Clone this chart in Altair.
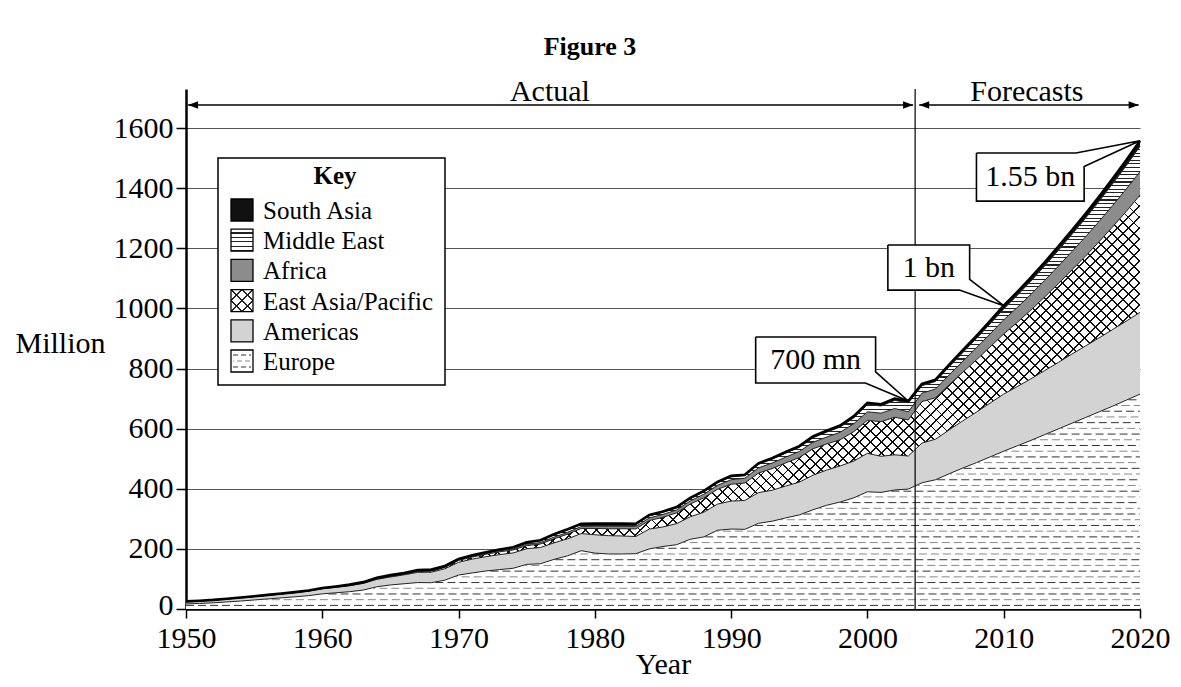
import altair as alt
import numpy as np
import pandas as pd

# ---------------- data (million arrivals) ----------------
years = list(range(1950, 2021))

europe = [16.8, 18.5, 20.5, 23.5, 26.5, 30.0, 33.5, 37.0, 40.5, 44.5,
          50.4, 54.0, 57.5, 63.0, 74.0, 80.0, 84.0, 88.0, 87.5, 96.0,
          113.0, 120.0, 126.5, 131.0, 135.5, 148.5, 150.5, 165.0, 177.0, 194.0,
          186.0, 183.0, 183.0, 184.0, 200.0, 208.0, 214.0, 232.0, 240.0, 262.0,
          266.0, 265.0, 285.0, 292.0, 303.0, 313.0, 330.0, 345.0, 356.0, 370.0,
          390.0, 388.0, 396.0, 399.0, 420.0, 430.0, 450.0, 469.0, 487.0, 506.0,
          525.0, 543.0, 561.0, 580.0, 599.0, 618.0, 637.0, 656.0, 675.0, 695.0,
          715.0]
americas = [7.5, 8.0, 8.6, 9.5, 10.3, 11.0, 11.8, 12.6, 13.8, 15.0,
            16.7, 18.0, 19.8, 22.0, 24.5, 26.5, 29.5, 34.0, 35.0, 38.0,
            42.3, 46.0, 47.5, 50.0, 51.0, 52.0, 54.0, 55.0, 56.5, 57.0,
            61.0, 61.0, 60.0, 57.0, 66.0, 65.0, 70.0, 75.0, 82.0, 87.0,
            93.0, 96.0, 102.0, 103.0, 106.0, 109.0, 115.0, 117.0, 120.0, 122.0,
            128.0, 120.0, 117.0, 110.0, 132.0, 135.0, 146.0, 157.0, 168.0, 179.0,
            190.0, 197.0, 205.0, 213.0, 221.0, 230.0, 238.0, 246.0, 255.0, 263.0,
            272.0]
east_asia = [0.2, 0.3, 0.3, 0.3, 0.4, 0.4, 0.5, 0.5, 0.6, 0.7,
             0.9, 1.0, 1.2, 1.5, 1.8, 2.1, 2.4, 2.8, 3.3, 4.3,
             6.2, 6.7, 8.0, 9.2, 9.8, 10.2, 11.5, 13.5, 15.5, 17.0,
             21.0, 23.0, 24.0, 25.5, 28.5, 32.0, 36.0, 42.0, 48.0, 49.0,
             56.0, 58.0, 65.0, 72.0, 77.0, 82.0, 88.0, 87.0, 87.0, 98.0,
             110.0, 115.0, 125.0, 120.0, 138.0, 138.0, 150.0, 162.0, 174.0, 187.0,
             200.0, 214.0, 229.0, 245.0, 262.0, 280.0, 299.0, 320.0, 342.0, 365.0,
             390.0]
africa = [0.5, 0.5, 0.6, 0.6, 0.6, 0.6, 0.6, 0.7, 0.7, 0.7,
          0.8, 0.9, 1.0, 1.1, 1.2, 1.4, 1.6, 1.8, 2.0, 2.2,
          2.4, 2.7, 3.0, 3.4, 3.8, 4.7, 5.0, 5.5, 6.0, 6.5,
          7.2, 7.8, 8.0, 8.3, 8.7, 9.7, 9.5, 10.5, 12.0, 13.5,
          15.2, 16.0, 17.5, 18.5, 19.0, 20.0, 21.5, 23.0, 25.0, 26.5,
          28.0, 28.5, 29.0, 27.0, 28.0, 29.0, 33.0, 36.0, 40.0, 43.0,
          47.0, 49.5, 52.0, 55.0, 58.0, 61.0, 64.0, 67.5, 71.0, 74.5,
          78.0]
middle_east = [0.2, 0.3, 0.3, 0.3, 0.4, 0.4, 0.4, 0.5, 0.5, 0.6,
               0.6, 0.9, 1.2, 1.5, 2.0, 2.2, 2.0, 2.2, 2.5, 2.0,
               1.9, 2.3, 2.8, 3.2, 3.7, 4.8, 5.8, 7.5, 8.0, 6.5,
               6.5, 7.0, 7.2, 6.5, 7.0, 7.5, 7.0, 7.5, 8.0, 8.5,
               9.6, 8.5, 11.5, 12.5, 13.5, 13.7, 15.0, 16.0, 17.5, 19.5,
               24.0, 24.0, 27.0, 30.0, 25.0, 25.0, 27.0, 29.0, 31.0, 33.5,
               36.0, 40.0, 44.0, 48.0, 52.5, 57.0, 62.0, 67.0, 72.0, 78.0,
               84.0]
south_asia = [0.1, 0.1, 0.1, 0.1, 0.1, 0.1, 0.1, 0.1, 0.1, 0.2,
              0.2, 0.3, 0.3, 0.3, 0.4, 0.4, 0.5, 0.6, 0.7, 0.8,
              0.9, 1.0, 1.2, 1.3, 1.4, 1.6, 1.8, 2.0, 2.2, 2.3,
              2.3, 2.4, 2.4, 2.4, 2.5, 2.5, 2.6, 2.8, 3.0, 3.1,
              3.2, 3.3, 3.6, 3.8, 4.0, 4.2, 4.5, 5.0, 5.0, 5.5,
              6.0, 5.8, 6.3, 6.0, 6.0, 6.0, 7.0, 8.0, 9.0, 10.0,
              11.0, 11.5, 12.0, 12.5, 13.0, 14.0, 15.0, 16.0, 17.0, 18.0,
              19.0]

key_labels = ["South Asia", "Middle East", "Africa", "East Asia/Pacific", "Americas", "Europe"]
x_ticks = list(range(1950, 2021, 10))
y_ticks = list(range(0, 1601, 200))
callouts = ["700 mn", "1 bn", "1.55 bn"]
callout_years = [2003, 2010, 2020]

for arr in (europe, americas, east_asia, africa, middle_east, south_asia):
    assert len(arr) == len(years)

# ---------------- layout constants ----------------
SERIF = "Liberation Serif"
W, H = 954, 520
YMAX = 1730
ky = H / YMAX
DIVIDER = 2003.5

cum = np.cumsum(np.vstack([europe, americas, east_asia, africa, middle_east, south_asia]), axis=0)
df = pd.DataFrame({"year": years, "base": 0.0, "e": cum[0], "a": cum[1], "p": cum[2],
                   "f": cum[3], "m": cum[4], "s": cum[5]})
total = dict(zip(years, cum[5]))

xs = alt.Scale(domain=[1950, 2020], nice=False, zero=False)
ys = alt.Scale(domain=[0, YMAX], nice=False, zero=True)

x_axis = alt.Axis(values=x_ticks, format="d", title="Year", grid=False,
                  domainColor="black", domainWidth=2.5, tickColor="black", tickWidth=1.5,
                  tickSize=9, labelFont=SERIF, labelFontSize=30, labelColor="black",
                  labelPadding=5, labelFlush=False, titleFont=SERIF, titleFontSize=30,
                  titleFontWeight="normal", titleColor="black", titleBaseline="alphabetic",
                  titleY=64)
y_axis = alt.Axis(values=y_ticks, format="d", title="Million", grid=True, gridColor="#555",
                  gridWidth=1.2, domainColor="black", domainWidth=2.5, tickColor="black",
                  tickWidth=1.5, tickSize=10, labelFont=SERIF, labelFontSize=30,
                  labelColor="black", labelPadding=3,
                  labelOffset={"condition": {"test": "datum.value === 0", "value": -4},
                               "value": 0},
                  titleFont=SERIF, titleFontSize=30,
                  titleFontWeight="normal", titleColor="black", titleAngle=0,
                  titleAlign="center", titleBaseline="middle", titleX=-126, titleY=254)


def X(field="year"):
    return alt.X(f"{field}:Q", scale=xs, axis=x_axis)


def Y(field):
    return alt.Y(f"{field}:Q", scale=ys, axis=y_axis)


def stripe_stops(n, frac, bg, fg):
    stops = []
    for i in range(n):
        a0 = round(i / n, 6)
        b0 = round((i + 1 - frac) / n, 6)
        c0 = round((i + 1) / n, 6)
        stops += [{"offset": a0, "color": bg}, {"offset": b0, "color": bg},
                  {"offset": b0, "color": fg}, {"offset": c0, "color": fg}]
    return stops


def hatch_grad(w_px, h_px, period_h, lw_px, fg, bg, direction):
    a, b = 1.0, h_px / w_px
    k = (a + b) / (a * a + b * b)
    n = max(1, int(round((w_px + h_px) / period_h)))
    frac = lw_px / (period_h / np.sqrt(2))
    stops = stripe_stops(n, frac, bg, fg)
    if direction == "/":
        return {"gradient": "linear", "x1": 0, "y1": 0, "x2": k * a, "y2": k * b, "stops": stops}
    return {"gradient": "linear", "x1": 0, "y1": 1, "x2": k * a, "y2": 1 - k * b, "stops": stops}


def hstripe_grad(h_px, period, lw_px, fg, bg):
    n = max(1, int(round(h_px / period)))
    return {"gradient": "linear", "x1": 0, "y1": 0, "x2": 0, "y2": 1,
            "stops": stripe_stops(n, lw_px / period, bg, fg)}


TRANSP = "rgba(255,255,255,0)"

# ---------------- bands ----------------
europe_fill = alt.Chart(df).mark_area(fill="white").encode(x=X(), y=Y("e"), y2="base:Q")

# dashed rows inside the Europe band, computed from its upper edge
grid_x = np.arange(1950, 2020.0001, 0.02)
e_line = np.interp(grid_x, years, cum[0])
segs = []
for k, lev in enumerate(np.arange(12, cum[0].max(), 19)):
    inside = (e_line > lev + 2).astype(int)
    edges = np.flatnonzero(np.diff(np.concatenate([[0], inside, [0]])))
    for s0, s1 in zip(edges[::2], edges[1::2]):
        segs.append({"x": grid_x[s0], "x2": grid_x[s1 - 1], "y": lev, "row": k % 2})
segs = pd.DataFrame(segs)

dash_even = alt.Chart(segs[segs.row == 0]).mark_rule(
    color="#333", strokeWidth=1, strokeDash=[8, 4]).encode(x=X("x"), x2="x2:Q", y=Y("y"))
dash_odd = alt.Chart(segs[segs.row == 1]).mark_rule(
    color="#888", strokeWidth=1, strokeDash=[8, 4], strokeDashOffset=6).encode(
    x=X("x"), x2="x2:Q", y=Y("y"))

americas_band = alt.Chart(df).mark_area(fill="#d3d3d3").encode(x=X(), y=Y("e"), y2="a:Q")

eap_h = (cum[2].max() - cum[1].min()) * ky
eap_white = alt.Chart(df).mark_area(fill="white").encode(x=X(), y=Y("a"), y2="p:Q")
eap_h1 = alt.Chart(df).mark_area(fill=hatch_grad(W, eap_h, 11, 1.35, "#111", TRANSP, "/")).encode(
    x=X(), y=Y("a"), y2="p:Q")
eap_h2 = alt.Chart(df).mark_area(fill=hatch_grad(W, eap_h, 11, 1.35, "#111", TRANSP, "\\")).encode(
    x=X(), y=Y("a"), y2="p:Q")

africa_band = alt.Chart(df).mark_area(fill="#8c8c8c").encode(x=X(), y=Y("p"), y2="f:Q")

me_h = (cum[4].max() - cum[3].min()) * ky
me_band = alt.Chart(df).mark_area(fill=hstripe_grad(me_h, 3.6, 1.1, "#222", "white")).encode(
    x=X(), y=Y("f"), y2="m:Q")

sa_band = alt.Chart(df).mark_area(fill="#111").encode(x=X(), y=Y("m"), y2="s:Q")

edges_lines = alt.Chart(df).transform_fold(["e", "a", "p", "f", "m"], as_=["k", "v"]).mark_line(
    color="#222", strokeWidth=1).encode(x=X(), y=Y("v"), detail="k:N")
top_line = alt.Chart(df).mark_line(color="black", strokeWidth=2.6).encode(x=X(), y=Y("s"))

# ---------------- divider, arrows, headings ----------------
ARROW_Y = 1677
div_df = pd.DataFrame({"x": [DIVIDER], "y": [0], "y2": [YMAX]})
divider = alt.Chart(div_df).mark_rule(color="black", strokeWidth=1.2).encode(
    x=X("x"), y=Y("y"), y2="y2:Q")

arr_df = pd.DataFrame({"x": [1950.15, DIVIDER + 0.3], "x2": [DIVIDER - 0.15, 2019.9],
                       "y": [ARROW_Y, ARROW_Y]})
arrows = alt.Chart(arr_df).mark_rule(color="black", strokeWidth=1.5).encode(
    x=X("x"), x2="x2:Q", y=Y("y"))
heads_r = alt.Chart(arr_df).mark_point(shape="M0,0L-2,-0.75L-2,0.75Z", filled=True, size=100,
                                       color="black", opacity=1).encode(x=X("x2"), y=Y("y"))
heads_l = alt.Chart(arr_df).mark_point(shape="M0,0L2,-0.75L2,0.75Z", filled=True, size=100,
                                       color="black", opacity=1).encode(x=X("x"), y=Y("y"))

head_df = pd.DataFrame({"x": [1976.7, 2011.7], "y": [1690, 1690], "t": ["Actual", "Forecasts"]})
headings = alt.Chart(head_df).mark_text(font=SERIF, fontSize=30, color="black",
                                        baseline="alphabetic", align="center").encode(
    x=X("x"), y=Y("y"), text="t:N")

# ---------------- call-out boxes ----------------
boxes = [  # x1, x2, top, bottom (year / million)
    (1991.8, 2000.6, 905, 752),
    (2001.5, 2007.5, 1211, 1061),
    (2008.0, 2015.9, 1517, 1357),
]
text_pos = [(1996.2, 828), (2004.5, 1136), (2011.95, 1437)]
pts = []
for i, ((x1, x2, tp, bt), yr) in enumerate(zip(boxes, callout_years)):
    tip = (yr, total[yr])
    if i < 2:
        poly = [(x1, tp), (x2, tp), (x2, bt + 0.24 * (tp - bt)), tip,
                (x2 - 0.75, bt), (x1, bt), (x1, tp)]
    else:
        poly = [(x1, tp), (x2 - 0.6, tp), tip, (x2, tp - 0.28 * (tp - bt)),
                (x2, bt), (x1, bt), (x1, tp)]
    for o, (px, py) in enumerate(poly):
        pts.append({"b": i, "o": o, "x": px, "y": py})
pts = pd.DataFrame(pts)
box_df = pd.DataFrame([{"x1": b[0], "x2": b[1], "y1": b[2], "y2": b[3]} for b in boxes])
box_fill = alt.Chart(box_df).mark_rect(fill="white").encode(
    x=X("x1"), x2="x2:Q", y=Y("y1"), y2="y2:Q")
box_line = alt.Chart(pts).mark_line(color="black", strokeWidth=1.6, strokeJoin="miter").encode(
    x=X("x"), y=Y("y"), order="o:Q", detail="b:N")
ct_df = pd.DataFrame({"x": [t[0] for t in text_pos], "y": [t[1] for t in text_pos], "t": callouts})
box_text = alt.Chart(ct_df).mark_text(font=SERIF, fontSize=30, color="black",
                                      baseline="middle", align="center").encode(
    x=X("x"), y=Y("y"), text="t:N")

# ---------------- key (pixel layout) ----------------
one = pd.DataFrame({"k": [0]})


def px_rect(x1, x2, y1, y2, **mk):
    return alt.Chart(one).mark_rect(**mk).encode(
        x=alt.value(x1), x2=alt.value(x2), y=alt.value(y1), y2=alt.value(y2))


def px_text(x, y, txt, **mk):
    return alt.Chart(one).mark_text(text=txt, **mk).encode(x=alt.value(x), y=alt.value(y))


key_layers = [px_rect(32, 259, 69, 296, fill="white", stroke="black", strokeWidth=1.5),
              px_text(149, 87, "Key", font=SERIF, fontSize=25, fontWeight="bold",
                      color="black", baseline="middle", align="center")]
SX1, SX2 = 45, 67
row_y = [121 + 30.2 * i for i in range(len(key_labels))]


def line_stops(centres, width, fg, bg):
    st = [{"offset": 0, "color": bg}]
    for c in centres:
        st += [{"offset": c - width / 2, "color": bg}, {"offset": c - width / 2, "color": fg},
               {"offset": c + width / 2, "color": fg}, {"offset": c + width / 2, "color": bg}]
    st.append({"offset": 1, "color": bg})
    return st


sw_fills = {
    "South Asia": "#111",
    "Middle East": hstripe_grad(22, 4.4, 1.2, "#222", "white"),
    "Africa": "#8c8c8c",
    "Americas": "#d3d3d3",
    "Europe": "white",
}
for lab, cy in zip(key_labels, row_y):
    y1, y2 = cy - 11, cy + 11
    if lab == "East Asia/Pacific":
        key_layers.append(px_rect(SX1, SX2, y1, y2, fill="white"))
        g1 = {"gradient": "linear", "x1": 0, "y1": 0, "x2": 1, "y2": 1,
              "stops": line_stops([0.25, 0.5, 0.75], 0.05, "#222", TRANSP)}
        g2 = {"gradient": "linear", "x1": 0, "y1": 1, "x2": 1, "y2": 0,
              "stops": line_stops([0.25, 0.5, 0.75], 0.05, "#222", TRANSP)}
        key_layers.append(px_rect(SX1, SX2, y1, y2, fill=g1))
        key_layers.append(px_rect(SX1, SX2, y1, y2, fill=g2))
    else:
        key_layers.append(px_rect(SX1, SX2, y1, y2, fill=sw_fills[lab]))
    if lab == "Europe":
        for j, dy in enumerate([-6, 0, 6]):
            key_layers.append(alt.Chart(one).mark_rule(
                color="#333" if j % 2 == 0 else "#888", strokeWidth=1, strokeDash=[5, 3],
                strokeDashOffset=0 if j % 2 == 0 else 4).encode(
                x=alt.value(SX1 + 2), x2=alt.value(SX2 - 2), y=alt.value(cy + dy)))
    key_layers.append(px_rect(SX1, SX2, y1, y2, fill=TRANSP, stroke="black", strokeWidth=1.3))
    key_layers.append(px_text(77, cy + 1, lab, font=SERIF, fontSize=25, color="black",
                              baseline="middle", align="left"))

title = px_text(404, -42, "Figure 3", font=SERIF, fontSize=26, fontWeight="bold",
                color="black", baseline="middle", align="center")

chart = alt.layer(
    europe_fill, dash_even, dash_odd, americas_band, eap_white, eap_h1, eap_h2,
    africa_band, me_band, sa_band, edges_lines, top_line,
    divider, arrows, heads_r, heads_l, headings,
    box_fill, box_line, box_text, *key_layers, title,
).properties(
    width=W, height=H,
    padding={"left": 178, "top": 81, "right": 33, "bottom": 70},
    autosize=alt.AutoSizeParams(type="none"),
    background="white",
).configure_view(stroke=None)

chart.save("out.html", embed_options={"renderer": "svg", "actions": False})
